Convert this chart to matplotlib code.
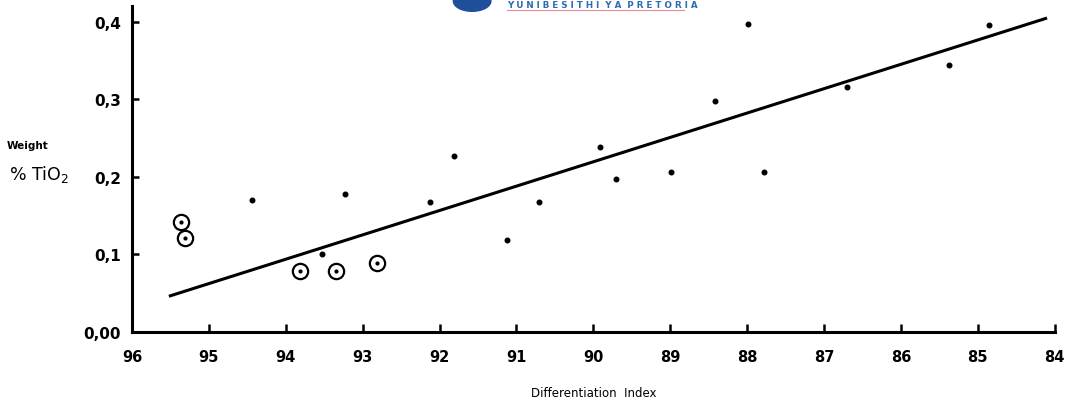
import matplotlib
matplotlib.use("Agg")
import matplotlib.pyplot as plt
from matplotlib.patches import Ellipse

# ---- data ----
dot_x = [94.44, 93.23, 93.53, 92.13, 91.81, 91.12, 90.71, 89.92, 89.70,
         88.99, 88.42, 87.99, 87.78, 86.70, 85.38, 84.86]
dot_y = [0.170, 0.178, 0.100, 0.168, 0.227, 0.119, 0.167, 0.239, 0.197,
         0.206, 0.298, 0.397, 0.206, 0.316, 0.345, 0.396]
circ_x = [95.36, 95.31, 93.82, 93.35, 92.81]
circ_y = [0.142, 0.121, 0.079, 0.079, 0.089]
fit_x = [95.52, 84.10]
fit_y = [0.046, 0.405]
xticks = [96, 95, 94, 93, 92, 91, 90, 89, 88, 87, 86, 85, 84]
yticks = [0.0, 0.1, 0.2, 0.3, 0.4]
ytick_labels = ["0,00", "0,1", "0,2", "0,3", "0,4"]

plt.rcParams['font.family'] = ['DejaVu Sans']
fig = plt.figure(figsize=(10.73, 4.10), dpi=100)
ax = fig.add_axes([0.123, 0.188, 0.860, 0.794])

ax.plot(fit_x, fit_y, color='black', lw=2.2, solid_capstyle='butt', zorder=2)
ax.plot(dot_x, dot_y, 'o', color='black', ms=3.3, zorder=3)
ax.plot(circ_x, circ_y, 'o', mfc='none', mec='black', mew=1.6, ms=11, zorder=3)
ax.plot(circ_x, circ_y, 'o', color='black', ms=2, zorder=3)

ax.set_xlim(96, 84)
ax.set_ylim(0, 0.42)
ax.set_xticks(xticks)
ax.set_xticklabels([str(t) for t in xticks])
ax.set_yticks(yticks)
ax.set_yticklabels(ytick_labels)
for s in ['top', 'right']:
    ax.spines[s].set_visible(False)
for s in ['left', 'bottom']:
    ax.spines[s].set_linewidth(2.2)
ax.tick_params(axis='x', direction='in', length=6, width=1.8, pad=12,
               labelsize=10.5)
ax.tick_params(axis='y', direction='in', length=5, width=1.8, pad=8,
               labelsize=11)
for lab in ax.get_xticklabels() + ax.get_yticklabels():
    lab.set_fontweight('bold')

ax.set_xlabel("Differentiation  Index", fontsize=8.5, labelpad=16)

fig.text(0.006, 0.645, "Weight", fontsize=7.5, fontweight='bold', ha='left', va='center')
fig.text(0.008, 0.575, "% TiO$_2$", fontsize=12.5, ha='left', va='center')

# watermark logo text at top
fig.text(0.4725, 0.997, "Y U N I B E S I T H I  Y A  P R E T O R I A", fontsize=6.3,
         color='#2f6bb0', ha='left', va='top', fontweight='bold')
fig.add_artist(plt.Line2D([0.4725, 0.637], [0.972, 0.972], color='#e88a9a', lw=0.8))
fig.add_artist(Ellipse((0.440, 0.995), 0.035, 0.05, color='#1f4f9a'))

fig.savefig("out.png", dpi=100)
